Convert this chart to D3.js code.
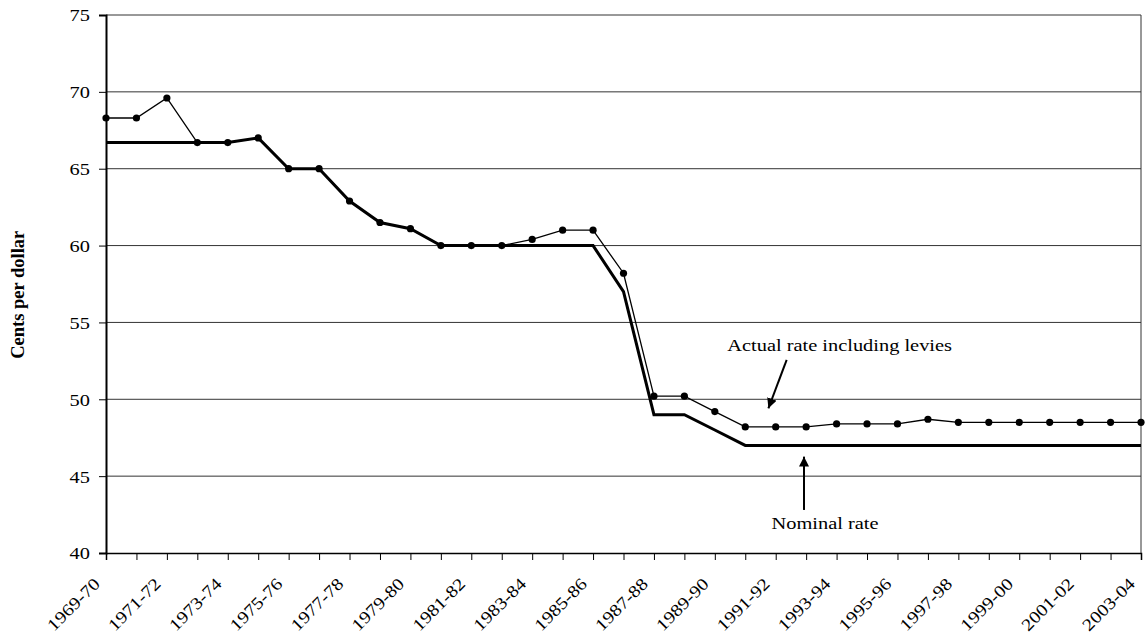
<!DOCTYPE html>
<html>
<head>
<meta charset="utf-8">
<script src="https://cdn.jsdelivr.net/npm/d3@7"></script>
<style>
  html, body { margin: 0; padding: 0; background: #fff; }
  svg { display: block; }
  text { font-family: "Liberation Serif", "Times New Roman", serif; fill: #000; }
</style>
</head>
<body>
<svg id="chart" width="1147" height="638"></svg>
<script>
// ---- data ----
const years = ["1969-70","1970-71","1971-72","1972-73","1973-74","1974-75","1975-76","1976-77",
  "1977-78","1978-79","1979-80","1980-81","1981-82","1982-83","1983-84","1984-85","1985-86",
  "1986-87","1987-88","1988-89","1989-90","1990-91","1991-92","1992-93","1993-94","1994-95",
  "1995-96","1996-97","1997-98","1998-99","1999-00","2000-01","2001-02","2002-03","2003-04"];
const actualRate = [68.3,68.3,69.6,66.7,66.7,67.0,65.0,65.0,62.9,61.5,61.1,60.0,60.0,60.0,60.4,61.0,61.0,
  58.2,50.2,50.2,49.2,48.2,48.2,48.2,48.4,48.4,48.4,48.7,48.5,48.5,48.5,48.5,48.5,48.5,48.5];
const nominalRate = [66.7,66.7,66.7,66.7,66.7,67.0,65.0,65.0,62.9,61.5,61.1,60.0,60.0,60.0,60.0,60.0,60.0,
  57.0,49.0,49.0,48.0,47.0,47.0,47.0,47.0,47.0,47.0,47.0,47.0,47.0,47.0,47.0,47.0,47.0,47.0];
const yTicks = [40,45,50,55,60,65,70,75];
const xTickLabels = years.filter((d, i) => i % 2 === 0);
const yTitle = "Cents per dollar";
const annotations = [
  { text: "Actual rate including levies", tx: 24.1, ty: 53.14, x1: 22.36, y1: 52.56, x2: 21.76, y2: 49.41 },
  { text: "Nominal rate", tx: 23.62, ty: 41.56, x1: 22.93, y1: 42.8, x2: 22.93, y2: 46.27 }
];

// ---- layout ----
const W = 1147, H = 638;
const m = { left: 106, right: 6, top: 15, bottom: 85 };
const svg = d3.select("#chart");
const iw = W - m.left - m.right, ih = H - m.top - m.bottom;
const g = svg.append("g").attr("transform", `translate(${m.left},${m.top})`);

const x = d3.scaleLinear().domain([0, years.length - 1]).range([0, iw]);
const y = d3.scaleLinear().domain([40, 75]).range([ih, 0]);
const SX = 1.2; // horizontal glyph stretch

// gridlines
g.append("g").selectAll("line").data(yTicks.filter(d => d > 40)).join("line")
  .attr("x1", 0).attr("x2", iw)
  .attr("y1", d => y(d)).attr("y2", d => y(d))
  .attr("stroke", "#333").attr("stroke-width", 1);
// right frame
g.append("line").attr("x1", iw).attr("x2", iw).attr("y1", 0).attr("y2", ih)
  .attr("stroke", "#333").attr("stroke-width", 1);

// y axis
const yAx = g.append("g").call(d3.axisLeft(y).tickValues(yTicks).tickSize(7).tickPadding(0).tickFormat(d3.format("d")));
yAx.select(".domain").attr("stroke", "#000").attr("stroke-width", 2);
yAx.selectAll(".tick line").attr("stroke", "#000").attr("stroke-width", 1);
yAx.selectAll(".tick text").attr("font-size", 17)
  .attr("x", null).attr("dy", null)
  .attr("transform", "translate(-16,0) scale(" + SX + ",1)")
  .attr("dominant-baseline", "central").attr("text-anchor", "end");

// x axis
const xAx = g.append("g").attr("transform", `translate(0,${ih})`)
  .call(d3.axisBottom(x).tickValues(d3.range(years.length)).tickSize(7).tickFormat(""));
xAx.select(".domain").attr("stroke", "#000").attr("stroke-width", 1.5);
xAx.selectAll(".tick line").attr("stroke", "#000").attr("stroke-width", 1);

g.append("g").selectAll("text").data(xTickLabels).join("text")
  .attr("transform", d => `translate(${x(years.indexOf(d)) - 5},${ih + 32}) rotate(-45) scale(1.17,1)`)
  .attr("text-anchor", "end").attr("font-size", 17)
  .text(d => d);

// y title
svg.append("text")
  .attr("transform", `translate(24,${m.top + y(56.8)}) rotate(-90)`)
  .attr("text-anchor", "middle").attr("font-size", 18.5).attr("font-weight", "bold")
  .text(yTitle);

// nominal line
g.append("path").datum(nominalRate)
  .attr("fill", "none").attr("stroke", "#000").attr("stroke-width", 3).attr("stroke-linejoin", "miter")
  .attr("d", d3.line().x((d, i) => x(i)).y(d => y(d)));

// actual line
g.append("path").datum(actualRate)
  .attr("fill", "none").attr("stroke", "#000").attr("stroke-width", 1.3)
  .attr("d", d3.line().x((d, i) => x(i)).y(d => y(d)));
g.append("g").selectAll("circle").data(actualRate).join("circle")
  .attr("cx", (d, i) => x(i)).attr("cy", d => y(d)).attr("r", 3.6).attr("fill", "#000");

// annotations
svg.append("defs").append("marker").attr("id", "arr")
  .attr("viewBox", "0 0 10 10").attr("refX", 10).attr("refY", 5)
  .attr("markerWidth", 10).attr("markerHeight", 10).attr("markerUnits", "userSpaceOnUse")
  .attr("orient", "auto")
  .append("path").attr("d", "M0,0 L10,5 L0,10 Z").attr("fill", "#000");

annotations.forEach(a => {
  g.append("line")
    .attr("x1", x(a.x1)).attr("y1", y(a.y1)).attr("x2", x(a.x2)).attr("y2", y(a.y2))
    .attr("stroke", "#000").attr("stroke-width", 2).attr("marker-end", "url(#arr)");
  g.append("text")
    .attr("transform", `translate(${x(a.tx)},${y(a.ty)}) scale(${SX},1)`)
    .attr("text-anchor", "middle").attr("font-size", 17)
    .text(a.text);
});
</script>
</body>
</html>
